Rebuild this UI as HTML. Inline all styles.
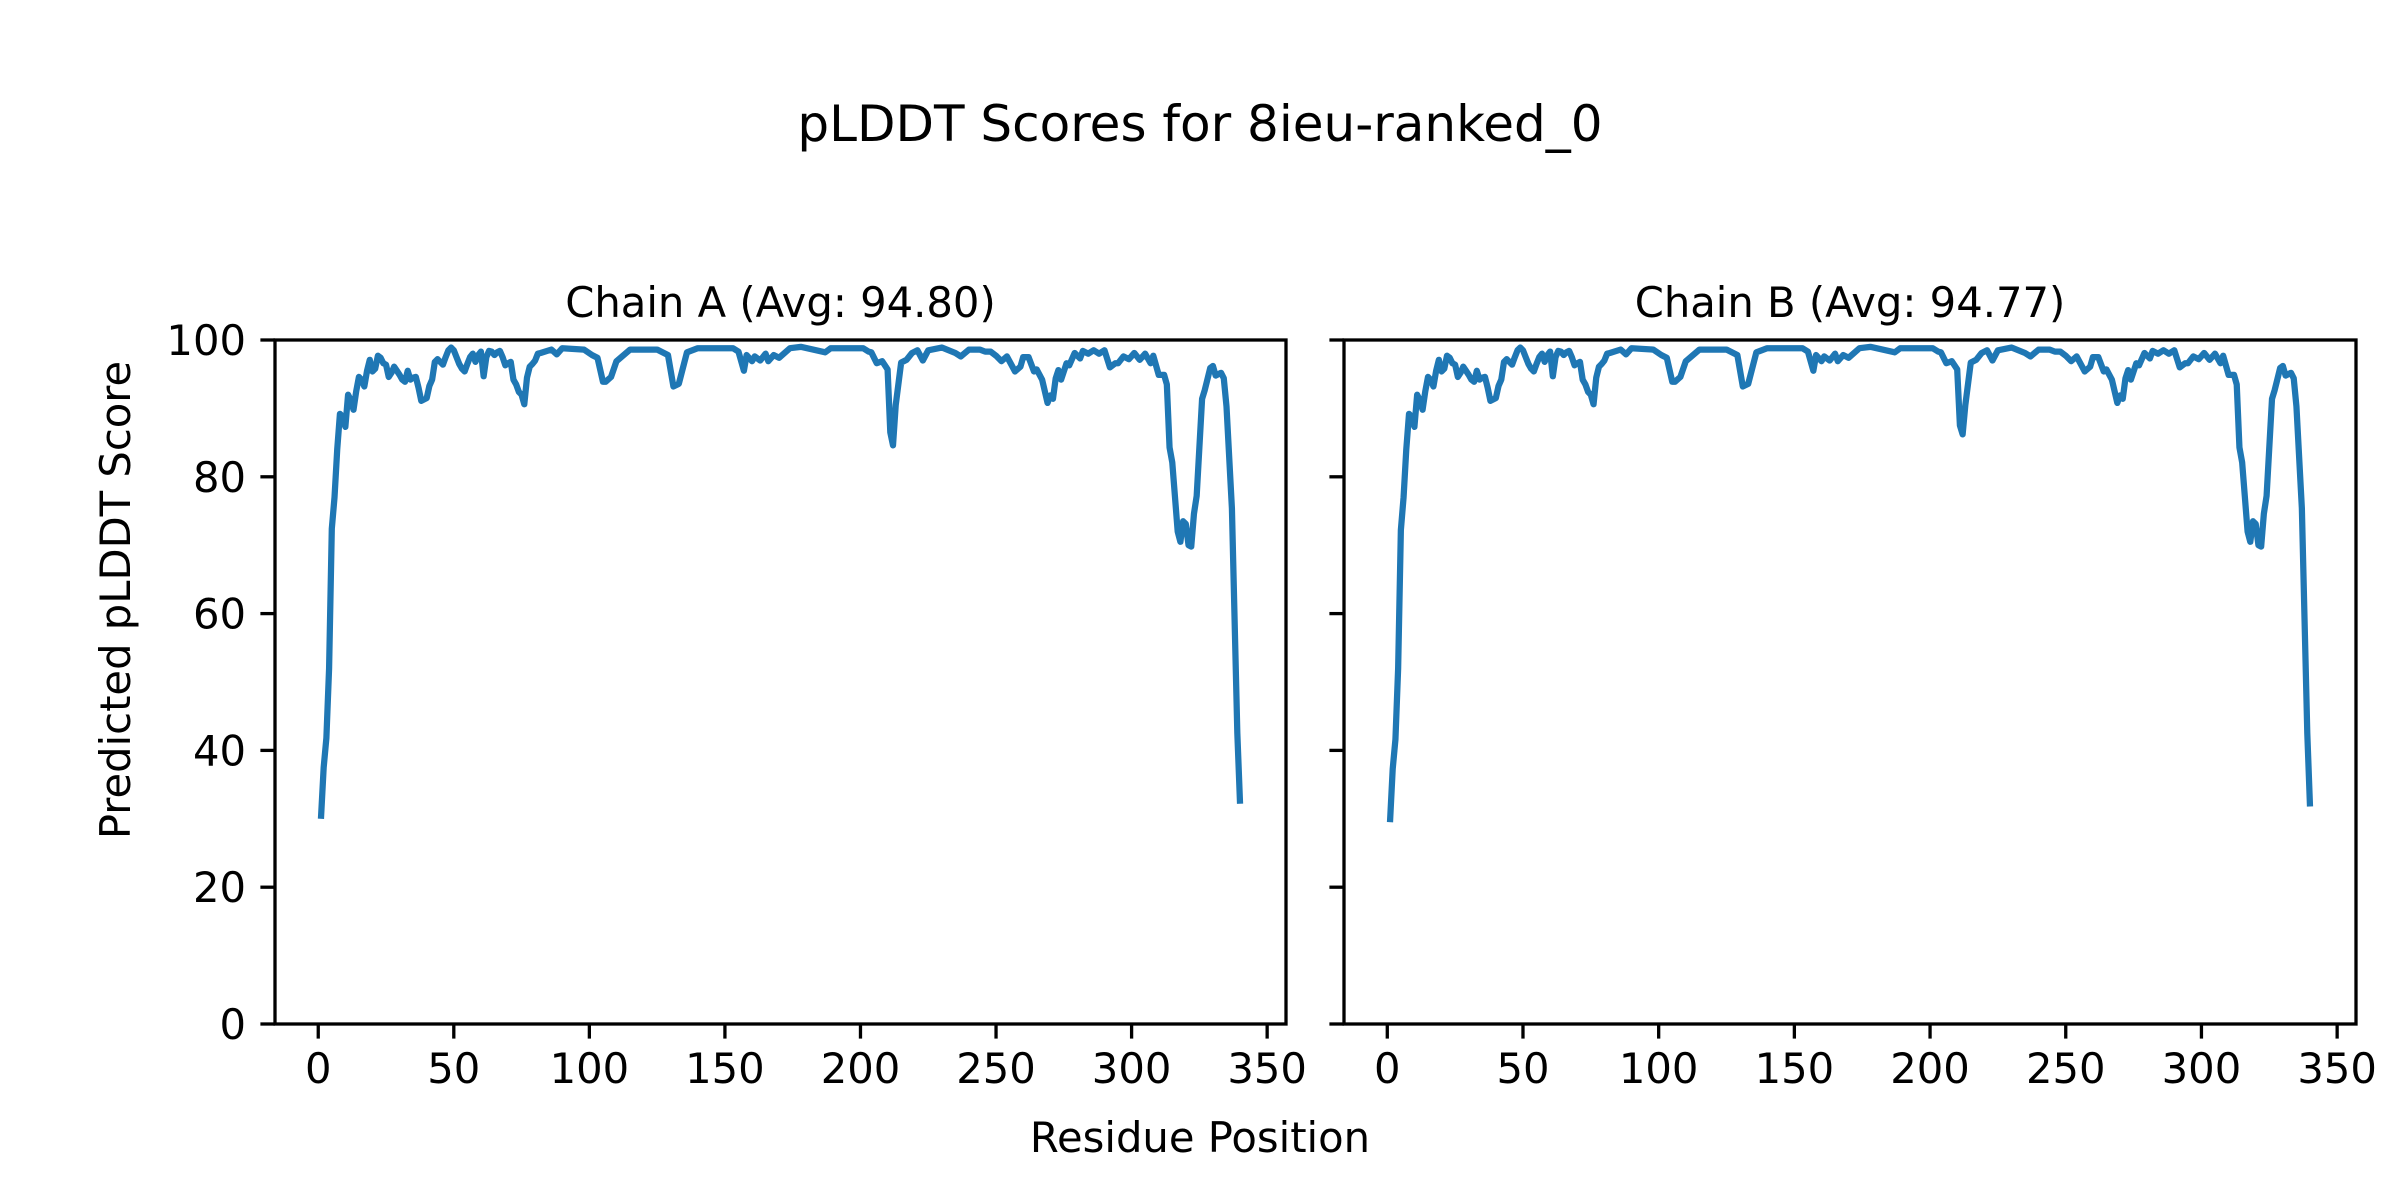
<!DOCTYPE html>
<html><head><meta charset="utf-8"><style>
html,body{margin:0;padding:0;background:#fff}
svg{display:block}
text{font-family:"DejaVu Sans","Liberation Sans",sans-serif;fill:#000}
</style></head><body>
<svg id="fig" xmlns="http://www.w3.org/2000/svg" width="2400" height="1200" viewBox="0 0 2400 1200">
<rect width="2400" height="1200" fill="#fff"/>
<text x="1200" y="141" font-size="50" text-anchor="middle">pLDDT Scores for 8ieu-ranked_0</text>
<text x="1200" y="1152" font-size="41.7" text-anchor="middle">Residue Position</text>
<text x="0" y="0" font-size="41.7" text-anchor="middle" transform="translate(130,600) rotate(-90)">Predicted pLDDT Score</text>
<g id="plots"></g>
</svg>
<script>
const residuesA = [1,2,3,4,5,6,7,8,9,10,11,12,13,14,15,16,17,18,19,20,21,22,23,24,25,26,27,28,29,30,31,32,33,34,35,36,37,38,39,40,41,42,43,44,45,46,47,48,49,50,51,52,53,54,55,56,57,58,59,60,61,62,63,64,65,66,67,68,69,70,71,72,73,74,75,76,77,78,79,80,81,82,86,88,90,98,101,103,105,106,108,110,115,125,129,131,133,136,140,153,155,157,158,160,161,163,165,166,168,170,174,178,187,189,201,203,204,206,208,210,211,212,213,215,217,219,221,223,225,230,235,237,240,244,246,248,250,252,254,257,259,260,262,264,265,267,269,270,271,272,273,274,276,277,279,281,282,284,286,288,290,292,294,295,297,299,301,303,305,307,308,310,312,313,314,315,317,318,319,320,321,322,323,324,326,327,329,330,331,333,334,335,337,339,340];
const scoresA = [30,37.5,41.8,52,72.4,77,84,89.2,88.8,87.3,92,91.2,89.8,92.5,94.6,94.2,93.2,95.5,97.1,95.4,95.8,97.7,97.4,96.6,96.4,94.6,95.2,96.1,95.5,94.9,94.2,93.9,95.5,94.2,94.5,94.6,93,91.1,91.3,91.5,93.3,94.2,96.8,97.2,96.8,96.4,97.5,98.5,98.9,98.5,97.5,96.5,95.8,95.4,96.5,97.5,98,96.8,97.8,98.3,94.7,97.5,98.4,98.3,97.8,98.2,98.4,97.5,96.3,96.6,96.8,94.2,93.5,92.4,92,90.6,94.5,96.1,96.5,97,98,98.1,98.6,97.9,98.8,98.6,97.8,97.4,93.9,93.9,94.6,96.9,98.6,98.6,97.8,93.2,93.6,98.2,98.8,98.8,98.3,95.5,97.8,96.9,97.6,97,98,96.9,97.8,97.4,98.8,99,98.2,98.8,98.8,98.3,98.2,96.6,96.9,95.7,86.5,84.6,90.5,96.7,97.1,98.1,98.5,97,98.5,98.9,98.1,97.6,98.6,98.6,98.3,98.3,97.7,96.9,97.6,95.4,96.1,97.5,97.5,95.4,95.7,94.2,90.8,91.9,91.4,94.4,95.6,94.2,96.6,96.3,98.1,97.3,98.4,98,98.5,98,98.5,96,96.6,96.6,97.6,97.2,98.1,97.1,98,96.6,97.7,94.9,94.9,93.5,84.3,82.1,72,70.5,73.5,73.1,70,69.8,74.6,77.2,91.4,92.7,95.9,96.2,94.8,95.2,94.4,90.3,75.4,42.5,32.2];
const residuesB = residuesA.slice();
const scoresB = [29.5,37.3,41.6,52,72.2,77,84,89.2,88.8,87.3,92,91.2,89.8,92.5,94.6,94.2,93.2,95.5,97.1,95.4,95.8,97.7,97.4,96.6,96.4,94.6,95.2,96.1,95.5,94.9,94.2,93.9,95.5,94.2,94.5,94.6,93,91.1,91.3,91.5,93.3,94.2,96.8,97.2,96.8,96.4,97.5,98.5,98.9,98.5,97.5,96.5,95.8,95.4,96.5,97.5,98,96.8,97.8,98.3,94.7,97.5,98.4,98.3,97.8,98.2,98.4,97.5,96.3,96.6,96.8,94.2,93.5,92.4,92,90.6,94.5,96.1,96.5,97,98,98.1,98.6,97.9,98.8,98.6,97.8,97.4,93.9,93.9,94.6,96.9,98.6,98.6,97.8,93.2,93.6,98.2,98.8,98.8,98.3,95.5,97.8,96.9,97.6,97,98,96.9,97.8,97.4,98.8,99,98.2,98.8,98.8,98.3,98.2,96.6,96.9,95.7,87.5,86.2,90.5,96.7,97.1,98.1,98.5,97,98.5,98.9,98.1,97.6,98.6,98.6,98.3,98.3,97.7,96.9,97.6,95.4,96.1,97.5,97.5,95.4,95.7,94.2,90.8,91.9,91.4,94.4,95.6,94.2,96.6,96.3,98.1,97.3,98.4,98,98.5,98,98.5,96,96.6,96.6,97.6,97.2,98.1,97.1,98,96.6,97.7,94.9,94.9,93.5,84.3,82.1,72,70.5,73.5,73.1,70,69.8,74.6,77.2,91.4,92.7,95.9,96.2,94.8,95.2,94.4,90.3,75.4,42.5,31.8];
const xTicks = [0,50,100,150,200,250,300,350];
const yTicks = [0,20,40,60,80,100];
const panelTitles = ["Chain A (Avg: 94.80)","Chain B (Avg: 94.77)"];

const NS = "http://www.w3.org/2000/svg";
const plotRoot = document.getElementById('plots');
function mk(tag, attrs, parent){const e=document.createElementNS(NS,tag);for(const k in attrs)e.setAttribute(k,attrs[k]);parent.appendChild(e);return e;}

const panels = [
  {left:275, right:1286, res:residuesA, val:scoresA, labels:true, key:'a'},
  {left:1344, right:2356, res:residuesB, val:scoresB, labels:false, key:'b'}
];
const axTop=340, axBottom=1024, xmin=-15.95, xmax=356.95;
panels.forEach((p,i)=>{
  const xs = v => p.left + (v - xmin)/(xmax - xmin)*(p.right - p.left);
  const ys = v => axBottom - v/100*(axBottom - axTop);
  const g = mk('g',{},plotRoot);
  
  
  const t = mk('text',{x:(p.left+p.right)/2, y:317, 'font-size':41.7, 'text-anchor':'middle'},g);
  t.textContent = panelTitles[i];
  
  
  let d = '';
  p.res.forEach((r,j)=>{ d += (j?'L':'M') + xs(r).toFixed(2) + ',' + ys(p.val[j]).toFixed(2); });
  const path = mk('path',{d:d, fill:'none', stroke:'#1f77b4', 'stroke-width':6.25, 'stroke-linejoin':'round', 'stroke-linecap':'butt'},g);
  
  
  xTicks.forEach(v=>{
    const x = xs(v);
    const tk = mk('line',{x1:x,x2:x,y1:axBottom,y2:axBottom+14.6,stroke:'#000','stroke-width':3.3},g);
    
    
    const lb = mk('text',{x:x,y:1083,'font-size':41.7,'text-anchor':'middle'},g);
    lb.textContent = v;
    
    
  });
  yTicks.forEach(v=>{
    const y = ys(v);
    const tk = mk('line',{x1:p.left-14.6,x2:p.left,y1:y,y2:y,stroke:'#000','stroke-width':3.3},g);
    
    
    if(p.labels){
      const lb = mk('text',{x:p.left-29,y:y+15,'font-size':41.7,'text-anchor':'end'},g);
      lb.textContent = v;
      
      
    }
  });
  const fr = mk('rect',{x:p.left,y:axTop,width:p.right-p.left,height:axBottom-axTop,fill:'none',stroke:'#000','stroke-width':3.3},g);
  
  
});
</script>
</body></html>
